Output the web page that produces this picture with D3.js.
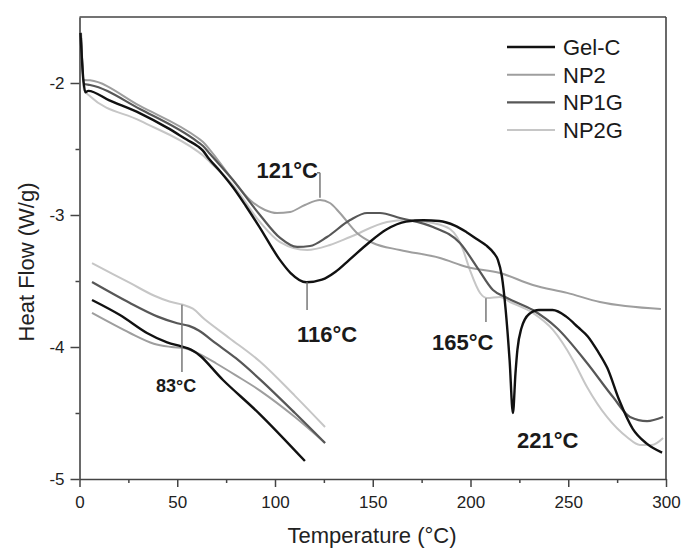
<!DOCTYPE html>
<html>
<head>
<meta charset="utf-8">
<script src="https://cdn.jsdelivr.net/npm/d3@7"></script>
<style>
  body { margin: 0; background: #fff; }
  svg { font-family: "Liberation Sans", Arial, sans-serif; }
</style>
</head>
<body>
<svg id="chart" width="681" height="548"></svg>
<script>
'use strict';

// series names and colours, in legend order
var seriesNames = ["Gel-C", "NP2", "NP1G", "NP2G"];
var seriesColors = ["#111111", "#9e9e9e", "#575757", "#c6c6c6"];
var seriesWidths = [2.4, 2, 2.2, 2];

// main curves: [temperature (°C), heat flow (W/g)]
var gelC = [[0.5,-1.62],[2,-1.98],[3,-2.07],[4.5,-2.06],[15,-2.13],[31,-2.23],[45,-2.34],[55,-2.43],[60.6,-2.48],[63,-2.51],[66,-2.57],[72,-2.67],[78.5,-2.79],[85,-2.93],[92,-3.09],[102.5,-3.34],[108,-3.44],[116,-3.51],[124,-3.49],[131,-3.43],[138,-3.34],[148,-3.21],[157,-3.11],[167,-3.05],[176,-3.04],[184,-3.045],[192,-3.08],[198,-3.13],[204,-3.19],[208,-3.23],[212,-3.29],[214,-3.34],[216,-3.46],[218,-3.72],[220,-4.1],[221.7,-4.5],[223,-4.2],[224,-4.02],[226,-3.86],[230,-3.75],[235,-3.72],[242,-3.72],[249,-3.77],[255,-3.85],[260,-3.92],[265,-4.03],[270,-4.16],[276,-4.40],[283,-4.62],[290,-4.73],[298,-4.80]];
var np2 = [[0.8,-1.62],[2.3,-1.977],[5.4,-1.98],[30.9,-2.174],[60.6,-2.417],[63.2,-2.447],[66.8,-2.508],[78.5,-2.735],[87.2,-2.886],[94.9,-2.962],[101,-2.985],[107.7,-2.977],[115.3,-2.924],[123,-2.886],[128.1,-2.909],[133.2,-2.985],[141.9,-3.136],[150.1,-3.212],[163.9,-3.265],[184.4,-3.326],[198.2,-3.394],[215.1,-3.439],[231.9,-3.53],[249.4,-3.59],[266.2,-3.659],[297.4,-3.712]];
var np1g = [[0.8,-1.66],[2.3,-2.008],[5.4,-2.015],[30.9,-2.197],[60.6,-2.447],[63.2,-2.477],[66.8,-2.538],[78.5,-2.735],[92.3,-3.0],[102.6,-3.174],[111.3,-3.242],[117.9,-3.235],[126.6,-3.167],[138.4,-3.038],[147.1,-2.985],[153.7,-2.985],[163.9,-3.023],[180.8,-3.091],[194.6,-3.212],[203.3,-3.394],[211.5,-3.568],[218.7,-3.629],[231.9,-3.72],[244.2,-3.856],[259.6,-4.121],[272.9,-4.379],[281.6,-4.53],[290.3,-4.561],[298.5,-4.53]];
var np2g = [[0.8,-1.69],[2.3,-2.053],[5.4,-2.1],[30.9,-2.285],[60.6,-2.52],[63.2,-2.55],[66.8,-2.6],[78.5,-2.773],[92.3,-3.053],[102.6,-3.205],[116.4,-3.265],[128.1,-3.227],[138.4,-3.167],[157.3,-3.053],[167.5,-3.038],[180.8,-3.061],[189.5,-3.106],[193.1,-3.167],[196.2,-3.265],[199.7,-3.417],[204.9,-3.591],[208.4,-3.629],[215.1,-3.621],[220.2,-3.659],[231.9,-3.742],[242.2,-3.871],[252.4,-4.098],[259.6,-4.303],[269.8,-4.53],[280,-4.682],[286.7,-4.742],[292.8,-4.742],[298.5,-4.689]];

// lower-left detail curves (same colours)
var gelCLow = [[6.4,-3.644],[20.7,-3.758],[34.5,-3.894],[44.8,-3.965],[52,-3.995],[57,-4.02],[62,-4.07],[73.4,-4.25],[92.3,-4.51],[115.3,-4.864]];
var np2Low = [[6.4,-3.742],[25.8,-3.894],[38,-3.975],[47,-4.0],[54,-4.01],[61,-4.05],[70,-4.125],[80,-4.215],[92.3,-4.33],[110.2,-4.53],[125.6,-4.727]];
var np1gLow = [[6.4,-3.508],[25.8,-3.667],[40,-3.77],[50,-3.82],[56,-3.84],[61,-3.875],[70,-3.975],[80,-4.085],[92.3,-4.245],[110.2,-4.5],[125.6,-4.727]];
var np2gLow = [[6.4,-3.364],[25.8,-3.515],[38,-3.61],[46,-3.655],[53,-3.68],[58,-3.71],[64,-3.79],[76.9,-3.935],[92.3,-4.11],[110.2,-4.37],[125.6,-4.606]];

var mainCurves = [gelC, np2, np1g, np2g];
var lowCurves = [gelCLow, np2Low, np1gLow, np2gLow];

// ticks
var xMajor = [0, 50, 100, 150, 200, 250, 300];
var xMinor = [25, 75, 125, 175, 225, 275];
var yMajor = [-2, -3, -4, -5];
var yMinor = [-2.5, -3.5, -4.5];

// peak annotations: label, text anchor point, marker line [t, y1, y2]
var peakLabels = ["121°C", "116°C", "165°C", "221°C", "83°C"];
var peakTextAt = [[122, -2.72], [111.3, -3.96], [180.3, -4.02], [223.8, -4.765], [49.4, -4.34]];
var peakAnchors = ["end", "start", "start", "start", "middle"];
var peakSizes = [22, 22, 22, 22, 18];
var peakMarks = [[123, -2.87, -2.68], [116.4, -3.51, -3.72], [207.9, -3.63, -3.81], null, [52.4, -3.68, -4.19]];

var svg = d3.select("#chart");
var x = d3.scaleLinear().domain([0, 300]).range([79.5, 666]);
var y = d3.scaleLinear().domain([-5, -1.5]).range([479, 17]);
var axisColor = "#444";

function styleAxis(g, size) {
    g.selectAll("path").attr("stroke", axisColor).attr("stroke-width", 1.6);
    g.selectAll("line").attr("stroke", axisColor).attr("stroke-width", 1.5);
    g.selectAll("text").attr("fill", "#222").attr("font-size", size)
        .attr("font-family", "'Liberation Sans', Arial, sans-serif");
}

// frame top and right
svg.append("line").attr("x1", x(0)).attr("x2", x(300)).attr("y1", y(-1.5)).attr("y2", y(-1.5))
    .attr("stroke", axisColor).attr("stroke-width", 1.6);
svg.append("line").attr("x1", x(300)).attr("x2", x(300)).attr("y1", y(-1.5)).attr("y2", y(-5))
    .attr("stroke", axisColor).attr("stroke-width", 1.6);

svg.append("g").attr("transform", "translate(0," + y(-5) + ")")
    .call(d3.axisBottom(x).tickValues(xMinor).tickSize(4).tickFormat(""))
    .call(function(g) { g.select(".domain").remove(); styleAxis(g, 17); });
svg.append("g").attr("transform", "translate(0," + y(-5) + ")")
    .call(d3.axisBottom(x).tickValues(xMajor).tickSize(8).tickSizeOuter(0).tickPadding(9).tickFormat(d3.format("d")))
    .call(function(g) { styleAxis(g, 17); });

svg.append("g").attr("transform", "translate(" + x(0) + ",0)")
    .call(d3.axisLeft(y).tickValues(yMinor).tickSize(4).tickFormat(""))
    .call(function(g) { g.select(".domain").remove(); styleAxis(g, 17); });
svg.append("g").attr("transform", "translate(" + x(0) + ",0)")
    .call(d3.axisLeft(y).tickValues(yMajor).tickSize(9).tickSizeOuter(0).tickPadding(6).tickFormat(function(d) { return String(d).replace("−", "-"); }))
    .call(function(g) { styleAxis(g, 17); });

// axis titles
svg.append("text").attr("x", 372).attr("y", 543).attr("text-anchor", "middle")
    .attr("font-size", 22).attr("fill", "#222").text("Temperature (°C)");
svg.append("text").attr("transform", "translate(34,262) rotate(-90)").attr("text-anchor", "middle")
    .attr("font-size", 22).attr("fill", "#222").text("Heat Flow (W/g)");

var line = d3.line()
    .x(function(d) { return x(d[0]); })
    .y(function(d) { return y(d[1]); })
    .curve(d3.curveMonotoneX);
var smoothLine = d3.line()
    .x(function(d) { return x(d[0]); })
    .y(function(d) { return y(d[1]); })
    .curve(d3.curveCatmullRom.alpha(0.5));

// draw light ones first so black stays on top
var order = [3, 1, 2, 0];
order.forEach(function(i) {
    svg.append("path").datum(lowCurves[i]).attr("d", smoothLine)
        .attr("fill", "none").attr("stroke", seriesColors[i]).attr("stroke-width", seriesWidths[i]);
});
order.forEach(function(i) {
    svg.append("path").datum(mainCurves[i]).attr("d", line)
        .attr("fill", "none").attr("stroke", seriesColors[i]).attr("stroke-width", seriesWidths[i])
        .attr("stroke-linejoin", "round");
});

// peak markers and labels
peakMarks.forEach(function(m, i) {
    if (!m) return;
    svg.append("line").attr("x1", x(m[0])).attr("x2", x(m[0])).attr("y1", y(m[1])).attr("y2", y(m[2]))
        .attr("stroke", "#777").attr("stroke-width", 1.5);
});
svg.append("line").attr("x1", x(121.5)).attr("x2", x(123)).attr("y1", y(-2.68)).attr("y2", y(-2.68))
    .attr("stroke", "#777").attr("stroke-width", 1.5);
peakLabels.forEach(function(lbl, i) {
    svg.append("text").attr("x", x(peakTextAt[i][0])).attr("y", y(peakTextAt[i][1]))
        .attr("text-anchor", peakAnchors[i]).attr("font-size", peakSizes[i])
        .attr("font-weight", "bold").attr("fill", "#1a1a1a").text(lbl);
});

// legend
var legend = svg.append("g").attr("transform", "translate(507,47)");
seriesNames.forEach(function(name, i) {
    var row = legend.append("g").attr("transform", "translate(0," + (i * 27.7) + ")");
    row.append("line").attr("x1", 0).attr("x2", 48).attr("y1", 0).attr("y2", 0)
        .attr("stroke", seriesColors[i]).attr("stroke-width", seriesWidths[i]);
    row.append("text").attr("x", 56).attr("y", 0).attr("dy", "0.36em")
        .attr("font-size", 22).attr("fill", "#1a1a1a").text(name);
});
</script>
</body>
</html>
